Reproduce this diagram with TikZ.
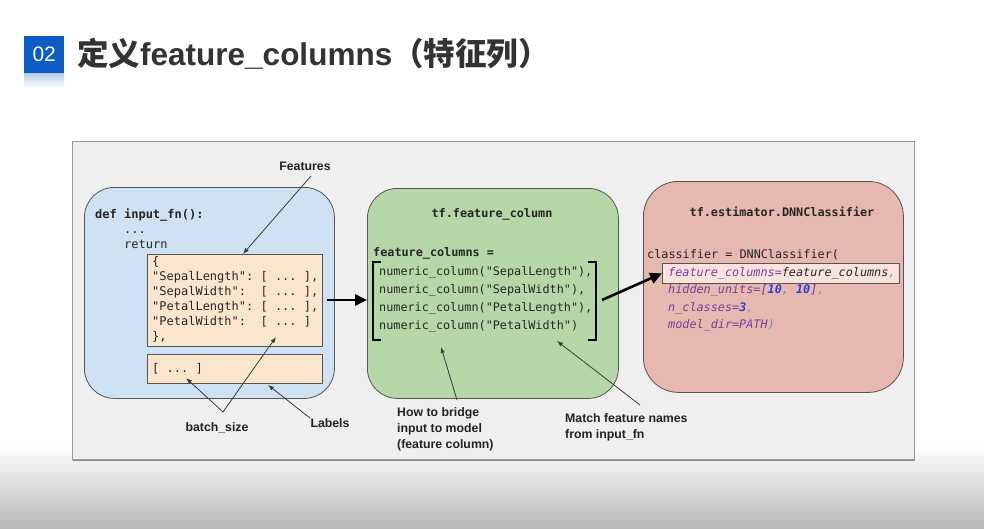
\documentclass[tikz,border=0pt]{standalone}
\usepackage{fontspec}
\setmainfont{Liberation Sans}
\setmonofont{DejaVu Sans Mono}
\newfontfamily\cjk{Noto Sans CJK SC}
\usetikzlibrary{arrows.meta}
\definecolor{titleblue}{HTML}{0B5CC4}
\definecolor{titletext}{HTML}{333333}
\definecolor{framefill}{HTML}{EFEFEF}
\definecolor{frameline}{HTML}{9A9A9A}
\definecolor{boxline}{HTML}{555555}
\definecolor{bluefill}{HTML}{CFE2F3}
\definecolor{orangefill}{HTML}{FCE5CD}
\definecolor{greenfill}{HTML}{B6D7A8}
\definecolor{redfill}{HTML}{E6B8AF}
\definecolor{hlfill}{HTML}{FAE3DC}
\definecolor{kw}{HTML}{7A3D9E}
\definecolor{num}{HTML}{2B3FD0}
\definecolor{punct}{HTML}{8C8C8C}
\definecolor{codedark}{HTML}{262626}
\definecolor{lbltext}{HTML}{222222}
\definecolor{thinline}{HTML}{3A3A3A}
\tikzset{
  roundbox/.style={draw=boxline, line width=0.8pt, rounded corners=30pt,
    anchor=north west, inner sep=0pt},
  sqbox/.style={draw=boxline, line width=0.7pt, fill=orangefill,
    anchor=north west, inner sep=0pt},
  codeL/.style={font=\ttfamily\fontsize{12}{15}\selectfont, text=codedark,
    inner sep=0pt, text height=9pt, text depth=3pt, anchor=west},
  codeS/.style={font=\ttfamily\fontsize{11.8}{15}\selectfont, text=codedark,
    inner sep=0pt, text height=9pt, text depth=3pt, anchor=west},
  codeSB/.style={codeS, font=\ttfamily\bfseries\fontsize{11.8}{15}\selectfont},
  codeSI/.style={codeS, font=\ttfamily\itshape\fontsize{11.8}{15}\selectfont},
  lbl/.style={font=\bfseries\fontsize{12.3}{16}\selectfont, text=lbltext,
    inner sep=0pt, text height=9pt, text depth=3pt},
  lblblock/.style={font=\bfseries\fontsize{12.3}{16}\selectfont, text=lbltext,
    inner sep=0pt, align=left, anchor=north west},
  pointer/.style={draw=thinline, line width=0.8pt,
    -{Latex[length=6pt,width=4.5pt]}},
  bigarrow/.style={draw=black, line width=2.6pt,
    -{Triangle[length=12pt,width=11pt]}},
  bracketline/.style={draw=black, line width=1.3pt}
}
\begin{document}
\begin{tikzpicture}[x=1pt,y=-1pt]
  % page background with darker band at the bottom
  \useasboundingbox (0,0) rectangle (984,528);
  \fill[white] (0,0) rectangle (984,528);
  \shade[top color=white, bottom color=black!28] (0,445) rectangle (984,528);

  % heading
  \shade[top color=titleblue!30, bottom color=white] (24,73) rectangle (64,88);
  \node[fill=titleblue, minimum width=40pt, minimum height=37pt, inner sep=0pt,
        anchor=north west, text=white, font=\fontsize{21}{21}\selectfont]
        (num) at (24,36) {02};
  \node[anchor=west, inner sep=0pt, text=titletext,
        font=\bfseries\fontsize{31.5}{34}\selectfont]
        (title) at (77,54) {{\cjk 定义}feature\_columns{\cjk （特征列）}};

  % diagram frame
  \fill[black!45] (73,143) rectangle (915,461);
  \node[draw=frameline, fill=framefill, line width=0.8pt, anchor=north west,
        minimum width=842pt, minimum height=318pt, inner sep=0pt]
        (frame) at (72,141) {};

  % input function box
  \node[roundbox, fill=bluefill, minimum width=250pt, minimum height=211pt]
        (blue) at (84,187) {};
  \node[codeL, font=\ttfamily\bfseries\fontsize{12}{15}\selectfont]
        (def) at (95,215) {def input\_fn():};
  \node[codeL] (dots) at (124,230) {...};
  \node[codeL] (ret) at (124,245) {return};
  \node[sqbox, minimum width=175pt, minimum height=92pt] (dict) at (147,254) {};
  \node[sqbox, minimum width=175pt, minimum height=29pt] (labs) at (147,354) {};
  \node[codeL] (d1) at (152,262) {\{};
  \node[codeL] (d2) at (152,277) {"SepalLength": [ ... ],};
  \node[codeL] (d3) at (152,292) {"SepalWidth":\ \ [ ... ],};
  \node[codeL] (d4) at (152,307) {"PetalLength": [ ... ],};
  \node[codeL] (d5) at (152,322) {"PetalWidth":\ \ [ ... ]};
  \node[codeL] (d6) at (152,337) {\},};
  \node[codeL] (lv) at (152,369) {[ ... ]};

  % feature column box
  \node[roundbox, fill=greenfill, minimum width=251pt, minimum height=210pt]
        (green) at (367,188) {};
  \node[codeSB, anchor=center] (fchead) at (492,214) {tf.feature\_column};
  \node[codeSB] (fcvar) at (373,253) {feature\_columns =};
  \node[codeS] (n1) at (379,272) {numeric\_column("SepalLength"),};
  \node[codeS] (n2) at (379,290) {numeric\_column("SepalWidth"),};
  \node[codeS] (n3) at (379,308) {numeric\_column("PetalLength"),};
  \node[codeS] (n4) at (379,326) {numeric\_column("PetalWidth")};
  \coordinate (lbA) at (381,262);
  \coordinate (lbB) at (381,340);
  \coordinate (rbA) at (588,262);
  \coordinate (rbB) at (588,340);
  \draw[bracketline] (lbA) -- ++(-8,0) |- (lbB);
  \draw[bracketline] (rbA) -- ++(8,0) |- (rbB);

  % estimator box
  \node[roundbox, rounded corners=35pt, fill=redfill, minimum width=260pt,
        minimum height=211pt] (red) at (643,181) {};
  \node[codeSB, anchor=center] (esthead) at (782,213) {tf.estimator.DNNClassifier};
  \node[codeS] (cls) at (647,255) {classifier = DNNClassifier(};
  \node[draw=boxline, line width=0.7pt, fill=hlfill, anchor=north west,
        minimum width=237pt, minimum height=20pt, inner sep=0pt]
        (hl) at (662,263) {};
  \node[codeSI] (k1) at (668,273)
        {\color{kw}feature\_columns=\color{codedark}feature\_columns\color{punct},};
  \node[codeSI] (k2) at (668,290)
        {\color{kw}hidden\_units=[\color{num}\bfseries 10\color{punct}\mdseries, \color{num}\bfseries 10\color{kw}\mdseries]\color{punct},};
  \node[codeSI] (k3) at (668,308)
        {\color{kw}n\_classes=\color{num}\bfseries 3\color{punct}\mdseries,};
  \node[codeSI] (k4) at (668,325)
        {\color{kw}model\_dir=PATH\color{punct})};

  % annotations
  \node[lbl] (feat) at (305,167) {Features};
  \node[lbl] (bs) at (217,428) {batch\_size};
  \node[lbl] (labtxt) at (330,424) {Labels};
  \node[lblblock] (bridge) at (397,407) {How to bridge\\input to model\\(feature column)};
  \node[lblblock] (match) at (565,413) {Match feature names\\from input\_fn};

  \coordinate (featS) at (311,176);
  \coordinate (featT) at (243,254);
  \draw[pointer] (featS) -- (featT);
  \coordinate (bsA) at (223,412);
  \coordinate (bsT1) at (186,378);
  \coordinate (bsT2) at (276,337);
  \draw[pointer] (bsA) -- (bsT1);
  \draw[pointer] (bsA) -- (bsT2);
  \coordinate (labS) at (310,418);
  \coordinate (labT) at (268,385);
  \draw[pointer] (labS) -- (labT);
  \coordinate (brS) at (457,400);
  \coordinate (brT) at (441,347);
  \draw[pointer] (brS) -- (brT);
  \coordinate (maS) at (640,405);
  \coordinate (maT) at (557,341);
  \draw[pointer] (maS) -- (maT);

  % data flow arrows
  \coordinate (flowA) at (327,300);
  \draw[bigarrow] (flowA) -- (flowA -| green.west);
  \coordinate (flowB) at (602,300);
  \draw[bigarrow] (flowB) -- (hl.west);
\end{tikzpicture}
\end{document}
